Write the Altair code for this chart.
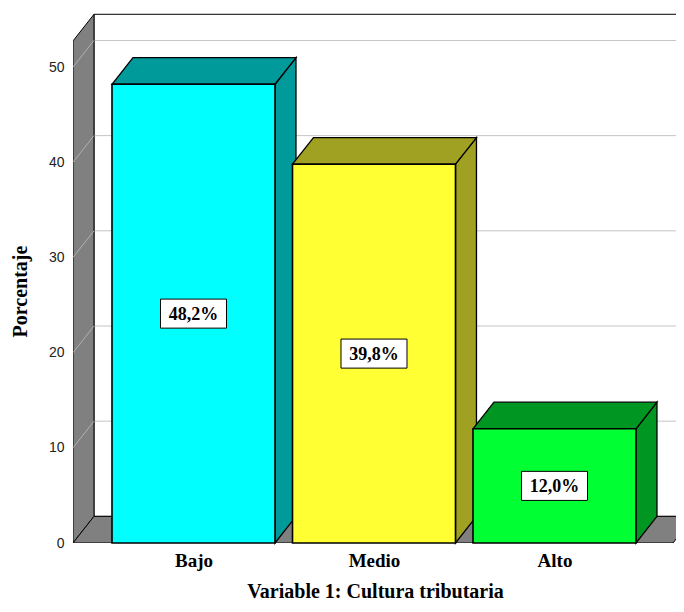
import altair as alt
import pandas as pd

# ---- data ----
categories = ["Bajo", "Medio", "Alto"]
values = [48.2, 39.8, 12.0]
front_colors = ["#00FFFF", "#FFFF33", "#00FF33"]
depth_colors = ["#009A9A", "#A0A022", "#009622"]
ticks = [0, 10, 20, 30, 40, 50]

# ---- geometry constants (scale units) ----
X_MIN, X_MAX = -0.6676, 2.6732
Y_MAX = 56.0
HALF = 0.4515          # half bar width (category units)
DX = 0.1163            # depth in x (category units)
DY = 2.8               # depth in y (value units)
WALL_TOP = 55.55
FLOOR_END = 2.6565
FAR = 3.2

xs = alt.Scale(domain=[X_MIN, X_MAX], nice=False, zero=False)
ys = alt.Scale(domain=[0, Y_MAX], nice=False, zero=False)

SERIF = "Liberation Serif"

# back wall
wall = pd.DataFrame({"x": [X_MIN + DX], "x2": [FAR], "y": [DY], "y2": [WALL_TOP]})
back_wall = alt.Chart(wall).mark_rect(fill="white", stroke="black", strokeWidth=1, clip=True).encode(
    x=alt.X("x:Q", scale=xs,
            axis=alt.Axis(values=[0, 1, 2], labelExpr="%s[datum.value]" % str(categories),
                          ticks=False, domain=False, grid=False, labelFont=SERIF, labelFontWeight="bold",
                          labelFontSize=19, labelColor="black", labelPadding=8,
                          title="Variable 1: Cultura tributaria", titleFont=SERIF, titleFontSize=20,
                          titleFontWeight="bold", titleColor="black", titleX=302, titleY=54,
                          titleBaseline="alphabetic", titleAlign="center")),
    x2="x2:Q",
    y=alt.Y("y:Q", scale=ys,
            axis=alt.Axis(values=ticks, ticks=False, domain=False, grid=False, labelFont="Liberation Sans",
                          labelFontSize=14, labelColor="#222", labelPadding=9,
                          title="Porcentaje", titleFont=SERIF, titleFontSize=20, titleFontWeight="bold",
                          titleColor="black", titleAngle=270, titleX=-53, titleY=281,
                          titleBaseline="middle", titleAlign="center")),
    y2="y2:Q",
)

grid_df = pd.DataFrame({"v": ticks[1:]})
grid_df["yb"] = grid_df["v"] + DY
grid_df["x"] = X_MIN + DX
grid_df["x2"] = FAR
grid_df["xf"] = X_MIN
back_grid = alt.Chart(grid_df).mark_rule(color="#C4C4C4", strokeWidth=1, clip=True).encode(
    x=alt.X("x:Q", scale=xs), x2="x2:Q", y=alt.Y("yb:Q", scale=ys)
)

# left wall (parallelogram)
lw = pd.DataFrame({"x": [X_MIN, X_MIN + DX], "y": [0, DY], "y2": [WALL_TOP - DY, WALL_TOP]})
left_wall = alt.Chart(lw).mark_area(fill="#808080", stroke="black", strokeWidth=1, clip=True,
                                    orient="vertical").encode(
    x=alt.X("x:Q", scale=xs), y=alt.Y("y:Q", scale=ys), y2="y2:Q"
)
left_grid = alt.Chart(grid_df).mark_rule(color="#B0B0B0", strokeWidth=1).encode(
    x=alt.X("xf:Q", scale=xs), x2="x:Q", y=alt.Y("v:Q", scale=ys), y2="yb:Q"
)

# floor
fl = pd.DataFrame({
    "x": [X_MIN, X_MIN + DX, FLOOR_END, FLOOR_END + DX],
    "y": [0, 0, 0, DY],
    "y2": [0, DY, DY, DY],
})
floor = alt.Chart(fl).mark_area(fill="#808080", stroke="black", strokeWidth=1, clip=True,
                                orient="vertical").encode(
    x=alt.X("x:Q", scale=xs), y=alt.Y("y:Q", scale=ys), y2="y2:Q"
)

# bar depth faces (side + top)
rows = []
for i, (v, c) in enumerate(zip(values, depth_colors)):
    sid = f"side{i}"
    rows += [
        dict(f=sid, x=i + HALF, y=0, y2=v, c=c),
        dict(f=sid, x=i + HALF + DX, y=DY, y2=v + DY, c=c),
    ]
    tid = f"top{i}"
    rows += [
        dict(f=tid, x=i - HALF, y=v, y2=v, c=c),
        dict(f=tid, x=i - HALF + DX, y=v, y2=v + DY, c=c),
        dict(f=tid, x=i + HALF, y=v, y2=v + DY, c=c),
        dict(f=tid, x=i + HALF + DX, y=v + DY, y2=v + DY, c=c),
    ]
faces = pd.DataFrame(rows)
bar_faces = alt.Chart(faces).mark_area(stroke="black", strokeWidth=1.3, strokeJoin="miter",
                                       orient="vertical").encode(
    x=alt.X("x:Q", scale=xs), y=alt.Y("y:Q", scale=ys), y2="y2:Q",
    detail="f:N", fill=alt.Fill("c:N", scale=None)
)

bars_df = pd.DataFrame({"cat": categories, "v": values, "c": front_colors})
bars_df["i"] = range(len(categories))
bars_df["x0"] = bars_df["i"] - HALF
bars_df["x1"] = bars_df["i"] + HALF
bars_df["mid"] = bars_df["v"] / 2
bars_df["lab"] = [f"{v:.1f}".replace(".", ",") + "%" for v in values]

fronts = alt.Chart(bars_df).mark_rect(stroke="black", strokeWidth=1.6).encode(
    x=alt.X("x0:Q", scale=xs), x2="x1:Q", y=alt.Y("v:Q", scale=ys), y2=alt.datum(0),
    fill=alt.Fill("c:N", scale=None)
)

box_shape = "M-1,-0.44L1,-0.44L1,0.44L-1,0.44Z"
boxes = alt.Chart(bars_df).mark_point(shape=box_shape, size=66 * 66, filled=True, fill="white",
                                      stroke="black", strokeWidth=1, opacity=1).encode(
    x=alt.X("i:Q", scale=xs), y=alt.Y("mid:Q", scale=ys)
)
labels = alt.Chart(bars_df).mark_text(font=SERIF, fontSize=18, fontWeight="bold", color="black",
                                      baseline="middle", dy=1).encode(
    x=alt.X("i:Q", scale=xs), y=alt.Y("mid:Q", scale=ys), text="lab:N"
)

chart = alt.layer(
    back_wall, back_grid, left_wall, left_grid, floor, bar_faces, fronts, boxes, labels
).properties(
    width=603, height=533,
    padding={"left": 65, "top": 2, "right": 0, "bottom": 59},
    autosize=alt.AutoSizeParams(type="none"),
    background="white",
).configure_view(stroke=None)

chart.save("out.html", embed_options={"renderer": "svg", "actions": False})
